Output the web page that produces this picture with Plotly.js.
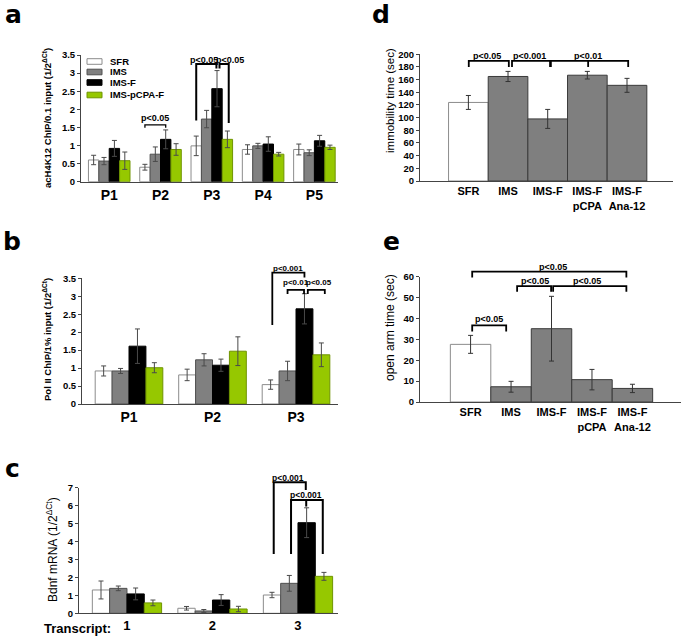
<!DOCTYPE html>
<html><head><meta charset="utf-8">
<script src="https://cdn.plot.ly/plotly-3.0.1.min.js"></script>
<style>body{margin:0;background:#fff}#g{width:685px;height:637px}</style>
</head><body><div id="g"></div>
<script>
// ---------- data ----------
const groupNames = ['SFR', 'IMS', 'IMS-F', 'IMS-pCPA-F'];

const aCats = ['P1', 'P2', 'P3', 'P4', 'P5'];
const aSFR = [0.60, 0.40, 0.99, 0.89, 0.89];
const aSFRerr = [0.13, 0.08, 0.27, 0.13, 0.15];
const aIMS = [0.57, 0.76, 1.73, 0.99, 0.80];
const aIMSerr = [0.10, 0.20, 0.24, 0.07, 0.08];
const aIMSF = [0.92, 1.17, 2.57, 1.04, 1.13];
const aIMSFerr = [0.22, 0.26, 0.50, 0.20, 0.15];
const aPCPA = [0.58, 0.89, 1.17, 0.76, 0.95];
const aPCPAerr = [0.24, 0.16, 0.23, 0.05, 0.06];

const bCats = ['P1', 'P2', 'P3'];
const bSFR = [0.92, 0.81, 0.54];
const bSFRerr = [0.14, 0.16, 0.13];
const bIMS = [0.92, 1.23, 0.92];
const bIMSerr = [0.07, 0.17, 0.27];
const bIMSF = [1.61, 1.08, 2.65];
const bIMSFerr = [0.48, 0.17, 0.42];
const bPCPA = [1.01, 1.47, 1.37];
const bPCPAerr = [0.14, 0.40, 0.33];

const cCats = ['1', '2', '3'];
const cSFR = [1.30, 0.28, 1.02];
const cSFRerr = [0.50, 0.10, 0.15];
const cIMS = [1.39, 0.13, 1.67];
const cIMSerr = [0.13, 0.08, 0.44];
const cIMSF = [1.08, 0.74, 5.05];
const cIMSFerr = [0.33, 0.30, 0.83];
const cPCPA = [0.58, 0.24, 2.06];
const cPCPAerr = [0.16, 0.15, 0.22];

const deCats = ['SFR', 'IMS', 'IMS-F', 'IMS-F<br>pCPA', 'IMS-F<br>Ana-12'];
const dVals = [124, 165, 98, 167, 151];
const dErr = [11, 8, 15, 6, 11];
const eVals = [27.6, 7.3, 35.1, 10.7, 6.5];
const eErr = [4.3, 2.6, 15.5, 4.9, 2.0];

// ---------- layout geometry ----------
const W = 685, H = 637;
const FONT = 'Liberation Sans, Arial, sans-serif';
const NFONT = 'Liberation Sans Narrow, Arial Narrow, Liberation Sans, Arial, sans-serif';
const LFONT = 'DejaVu Sans, Liberation Sans, sans-serif';
const P = {
  a: {x0: 81, x1: 338, y0: 181.7, y1: 55, xr: [-0.55, 4.46], yr: [0, 3.5]},
  b: {x0: 82, x1: 338, y0: 404, y1: 278.3, xr: [-0.563, 2.503], yr: [0, 3.5]},
  c: {x0: 79, x1: 338, y0: 613.3, y1: 487.7, xr: [-0.561, 2.468], yr: [0, 7]},
  d: {x0: 420, x1: 673, y0: 181, y1: 54.3, xr: [-1.22, 5.16], yr: [0, 200]},
  e: {x0: 420, x1: 681, y0: 402, y1: 276.7, xr: [-1.25, 5.2], yr: [0, 60]}
};
function X(p, v) { return (p.x0 + (v - p.xr[0]) / (p.xr[1] - p.xr[0]) * (p.x1 - p.x0)) / W; }
function Y(p, v) { return 1 - (p.y0 - (v - p.yr[0]) / (p.yr[1] - p.yr[0]) * (p.y0 - p.y1)) / H; }

const BARGAP = 0.19;
const BW = (1 - BARGAP) / 4;
function off(k) { return (k - 1.5) * BW; }

const fill = ['#ffffff', '#808080', '#000000', '#96c800'];
const edge = ['#8c8c8c', '#505050', '#000000', '#6f9400'];

const traces = [];
function group(cats, vals, errs, xa, ya) {
  vals.forEach((v, k) => {
    traces.push({
      type: 'bar', x: cats, y: v, name: groupNames[k], xaxis: xa, yaxis: ya, showlegend: false,
      marker: {color: fill[k], line: {color: edge[k], width: 1}},
      error_y: {type: 'data', array: errs[k], visible: true, color: '#4a4a4a', thickness: 1, width: 2.5}
    });
  });
}
group(aCats, [aSFR, aIMS, aIMSF, aPCPA], [aSFRerr, aIMSerr, aIMSFerr, aPCPAerr], 'x', 'y');
group(bCats, [bSFR, bIMS, bIMSF, bPCPA], [bSFRerr, bIMSerr, bIMSFerr, bPCPAerr], 'x2', 'y2');
group(cCats, [cSFR, cIMS, cIMSF, cPCPA], [cSFRerr, cIMSerr, cIMSFerr, cPCPAerr], 'x3', 'y3');

function single(vals, errs, xa, ya) {
  traces.push({
    type: 'bar', x: deCats, y: vals, xaxis: xa, yaxis: ya, showlegend: false, width: 1,
    marker: {color: deCats.map((c, i) => i === 0 ? '#ffffff' : '#7f7f7f'),
             line: {color: deCats.map((c, i) => i === 0 ? '#8c8c8c' : '#3a3a3a'), width: 1}},
    error_y: {type: 'data', array: errs, visible: true, color: '#333', thickness: 1, width: 2.5}
  });
}
single(dVals, dErr, 'x4', 'y4');
single(eVals, eErr, 'x5', 'y5');

function yax(p, dtick, anchor) {
  return {
    domain: [1 - p.y0 / H, 1 - p.y1 / H], range: p.yr, dtick: dtick, anchor: anchor,
    showline: true, linecolor: '#444', linewidth: 1, ticks: 'outside', ticklen: 3, tickcolor: '#444',
    showgrid: false, zeroline: false,
    tickfont: {family: NFONT, size: 9.5, color: '#000', weight: 'bold'}
  };
}
function xax(p, anchor, size) {
  return {
    domain: [p.x0 / W, p.x1 / W], type: 'category', range: p.xr, anchor: anchor,
    showline: true, linecolor: '#444', linewidth: 1, ticks: '', showgrid: false, zeroline: false,
    tickfont: {family: NFONT, size: size, color: '#000', weight: 'bold'}
  };
}

const shapes = [], ann = [];
function line(p, pts, w) {
  let d = '';
  pts.forEach((pt, i) => { d += (i ? ' L ' : 'M ') + X(p, pt[0]) + ',' + Y(p, pt[1]); });
  shapes.push({type: 'path', xref: 'paper', yref: 'paper', path: d, line: {color: '#000', width: w}});
}
function bracket(p, xL, xR, yTop, yL, yR, w) { line(p, [[xL, yL], [xL, yTop], [xR, yTop], [xR, yR]], w); }
function txt(p, x, y, t, size) {
  ann.push({xref: 'paper', yref: 'paper', x: X(p, x), y: Y(p, y), text: t, showarrow: false,
    xanchor: 'center', yanchor: 'middle', font: {family: NFONT, size: size, color: '#000', weight: 'bold'}});
}

// panel a brackets
bracket(P.a, 1 + off(0), 1 + off(2), 1.57, 1.49, 1.49, 1.3);
txt(P.a, 1 + (off(0) + off(2)) / 2, 1.76, 'p<0.05', 9);
bracket(P.a, 2 + off(0), 2 + 0.09, 3.25, 1.69, 3.13, 2);
txt(P.a, 1.85, 3.37, 'p<0.05', 9);
bracket(P.a, 2 + 0.15, 2 + 0.33, 3.25, 3.13, 1.62, 2);
txt(P.a, 2.36, 3.37, 'p<0.05', 9);

// panel b brackets
bracket(P.b, 2 + off(0) + 0.02, 2 + off(2), 3.66, 2.2, 3.52, 1.8);
txt(P.b, 1.9, 3.78, 'p<0.001', 8);
bracket(P.b, 2 + off(1), 2 + off(2) - 0.005, 3.18, 3.06, 3.06, 1.8);
txt(P.b, 2 + (off(1) + off(2)) / 2, 3.38, 'p<0.01', 8);
bracket(P.b, 2 + off(2) + 0.04, 2 + 0.345, 3.18, 3.06, 3.06, 1.8);
txt(P.b, 2.27, 3.38, 'p<0.05', 8);

// panel c brackets
bracket(P.c, 2 + off(0) + 0.02, 2 + off(2) - 0.01, 7.31, 3.3, 6.87, 2);
txt(P.c, 1.88, 7.55, 'p<0.001', 8.5);
bracket(P.c, 2 + off(1) + 0.02, 2 + 0.29, 6.31, 3.3, 3.3, 2);
line(P.c, [[2 + off(2) - 0.005, 6.31], [2 + off(2) - 0.005, 5.95]], 2);
txt(P.c, 2.094, 6.6, 'p<0.001', 8.5);

// panel d brackets
bracket(P.d, 0.01, 1.02, 189.5, 180, 180, 1.8);
txt(P.d, 0.47, 197.5, 'p<0.05', 9);
bracket(P.d, 1.1, 2.06, 189.5, 180, 180, 1.8);
txt(P.d, 1.55, 197.5, 'p<0.001', 9);
bracket(P.d, 2.08, 4.03, 189.5, 180, 180, 1.8);
line(P.d, [[3.02, 189.5], [3.02, 180]], 1.8);
txt(P.d, 3.02, 197.5, 'p<0.01', 9);

// panel e brackets
bracket(P.e, 0.04, 3.85, 62.4, 59.6, 59.6, 1.8);
txt(P.e, 2.04, 64.8, 'p<0.05', 9);
bracket(P.e, 1.15, 1.99, 55.5, 52.8, 52.8, 1.8);
txt(P.e, 1.6, 58.0, 'p<0.05', 9);
bracket(P.e, 2.04, 3.85, 55.5, 52.8, 52.8, 1.8);
txt(P.e, 2.88, 58.0, 'p<0.05', 9);
bracket(P.e, 0.04, 0.88, 36.7, 33.7, 33.7, 1.8);
txt(P.e, 0.46, 39.8, 'p<0.05', 9);

// legend for panel a (custom)
const legRows = [61.5, 72, 82.5, 95];
groupNames.forEach((n, k) => {
  shapes.push({type: 'rect', xref: 'paper', yref: 'paper', x0: 87 / W, x1: 102 / W,
    y0: 1 - (legRows[k] + 2.8) / H, y1: 1 - (legRows[k] - 2.8) / H,
    fillcolor: fill[k], line: {color: edge[k], width: 1}});
  ann.push({xref: 'paper', yref: 'paper', x: 108 / W, y: 1 - legRows[k] / H, text: n, showarrow: false,
    xanchor: 'left', yanchor: 'middle', font: {family: NFONT, size: 9.5, color: '#000', weight: 'bold'}});
});

// axis titles (rotated)
function ytitle(x, y, t, size, weight) {
  ann.push({xref: 'paper', yref: 'paper', x: x / W, y: 1 - y / H, text: t, showarrow: false, textangle: -90,
    xanchor: 'center', yanchor: 'middle', font: {family: FONT, size: size, color: '#000', weight: weight}});
}
ytitle(47, 118, 'acH4K12 ChIP/0.1 input (1/2<sup>ΔCt</sup>)', 9.5, 'bold');
ytitle(47, 340, 'Pol II ChIP/1% input (1/2<sup>ΔCt</sup>)', 9.5, 'bold');
ytitle(52, 550, 'Bdnf mRNA (1/2<sup>ΔCt</sup>)', 12, 'normal');
ytitle(390, 101, 'immobility time (sec)', 11.5, 'normal');
ytitle(390, 328, 'open arm time (sec)', 12, 'normal');

// panel letters
function letter(x, y, t) {
  ann.push({xref: 'paper', yref: 'paper', x: x / W, y: 1 - y / H, text: t, showarrow: false,
    xanchor: 'center', yanchor: 'middle', font: {family: LFONT, size: 25, color: '#000', weight: 'bold'}});
}
letter(13, 14.5, 'a');
letter(12.5, 241.5, 'b');
letter(12.5, 468.5, 'c');
letter(381, 14.5, 'd');
letter(391, 241.5, 'e');

ann.push({xref: 'paper', yref: 'paper', x: 42 / W, y: 1 - 628 / H, text: 'Transcript:', showarrow: false,
  xanchor: 'left', yanchor: 'middle', font: {family: NFONT, size: 13, color: '#000', weight: 'bold'}});

const layout = {
  width: W, height: H, margin: {l: 0, r: 0, t: 0, b: 0}, paper_bgcolor: '#fff', plot_bgcolor: 'rgba(0,0,0,0)',
  barmode: 'group', bargap: BARGAP, bargroupgap: 0, showlegend: false,
  xaxis: xax(P.a, 'y', 14), yaxis: yax(P.a, 0.5, 'x'),
  xaxis2: xax(P.b, 'y2', 14), yaxis2: yax(P.b, 0.5, 'x2'),
  xaxis3: xax(P.c, 'y3', 13), yaxis3: yax(P.c, 1, 'x3'),
  xaxis4: xax(P.d, 'y4', 11), yaxis4: yax(P.d, 20, 'x4'),
  xaxis5: xax(P.e, 'y5', 11), yaxis5: yax(P.e, 10, 'x5'),
  shapes: shapes, annotations: ann
};
Plotly.newPlot('g', traces, layout, {staticPlot: true, displayModeBar: false});
</script></body></html>
